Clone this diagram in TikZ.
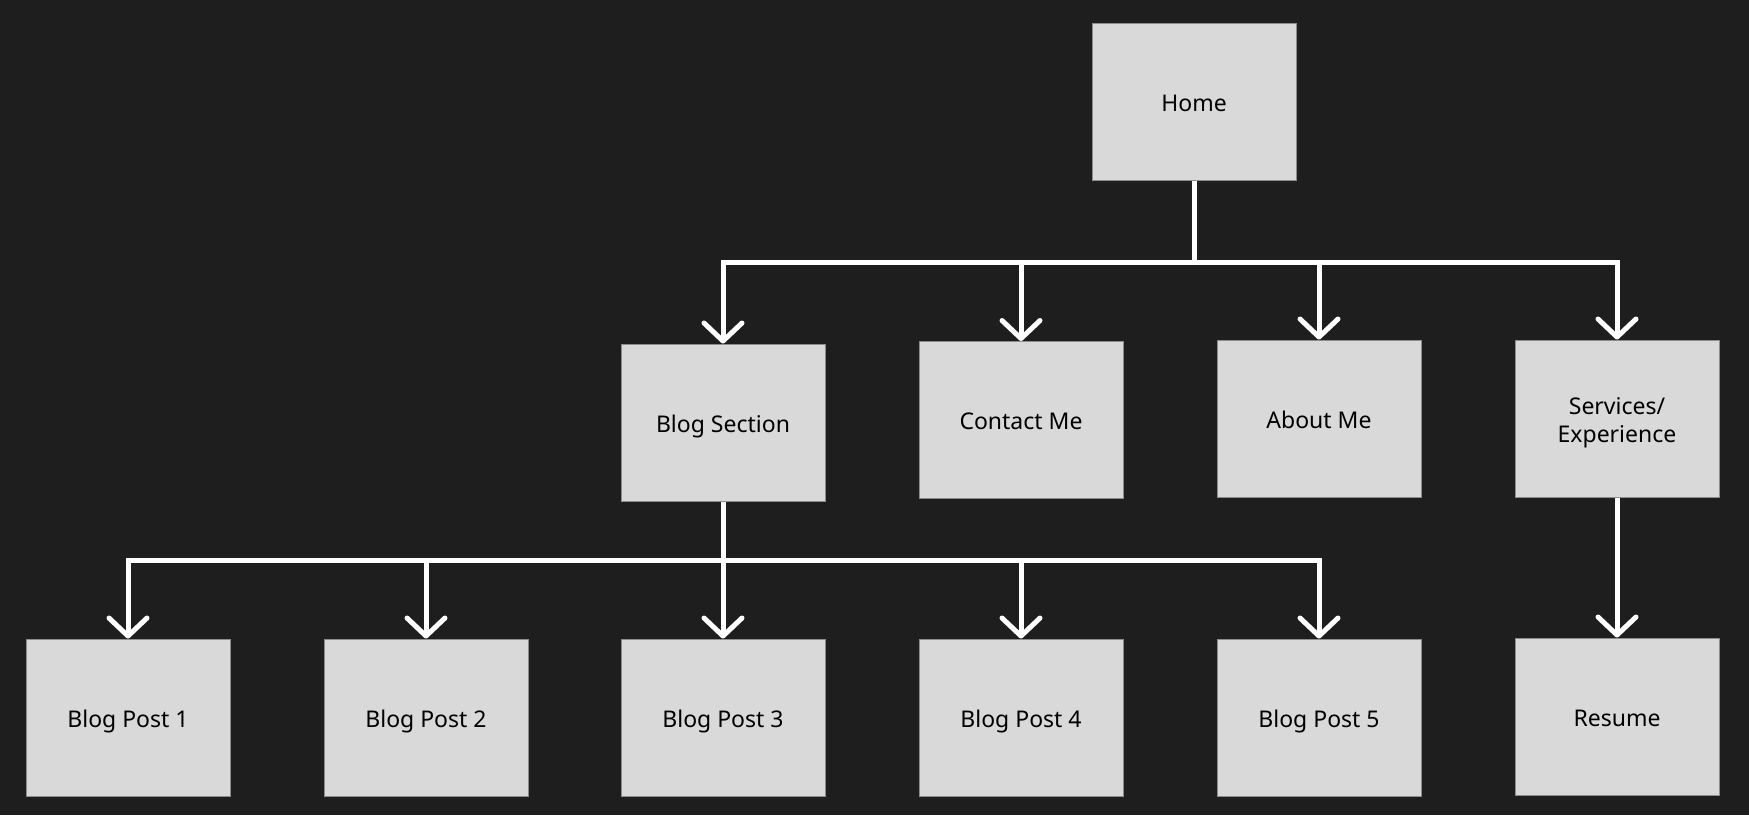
\documentclass[tikz,border=0pt]{standalone}
\usepackage{fontspec}
\setmainfont{Noto Sans}
\usetikzlibrary{%
  arrows.meta,%
  positioning,%
  calc%
}
\definecolor{bgdark}{HTML}{1E1E1E}
\definecolor{boxgray}{HTML}{D9D9D9}

\begin{document}
\begin{tikzpicture}[
  x=0.5pt, y=-0.5pt, font=\fontsize{11.5}{14}\selectfont,
  page/.style={rectangle, minimum width=102pt, minimum height=78.5pt, inner sep=0pt, align=center,
    text height=9.8pt, text depth=0pt,
    fill=boxgray, draw=black!45, line width=0.5pt, text=black},
  link/.style={draw=white, line width=2.5pt, -{Straight Barb[length=9pt, width=19pt, round]}}
]

% background and size
\fill[bgdark] (0,0) rectangle (1749,815);
\useasboundingbox (0,0) rectangle (1749,815);

% top level
\node[page] (home) at (1194,101.5) {Home};

% second level
\node[page] (blog) at (723,422.5) {Blog Section};
\node[page] (contact) at (1021,420) {Contact Me};
\node[page] (about) at (1319,418.5) {About Me};
\node[page, text height=24.3pt] (services) at (1617,418.5) {Services/\\Experience};

% third level
\foreach \i/\x in {1/128,2/426,3/723,4/1021,5/1319} {
  \node[page] (post\i) at (\x,717.5) {Blog Post \i};
}
\node[page] (resume) at (1617,716.5) {Resume};

% buses
\coordinate (bus1) at (0,262);
\coordinate (bus2) at (0,560);

\foreach \c in {blog,contact,about,services} {
  \draw[link] (home.south) -- (home.south |- bus1) -| (\c.north);
}
\foreach \i in {1,...,5} {
  \draw[link] (blog.south) -- (blog.south |- bus2) -| (post\i.north);
}
\draw[link] (services.south) -- (resume.north);

\end{tikzpicture}
\end{document}
